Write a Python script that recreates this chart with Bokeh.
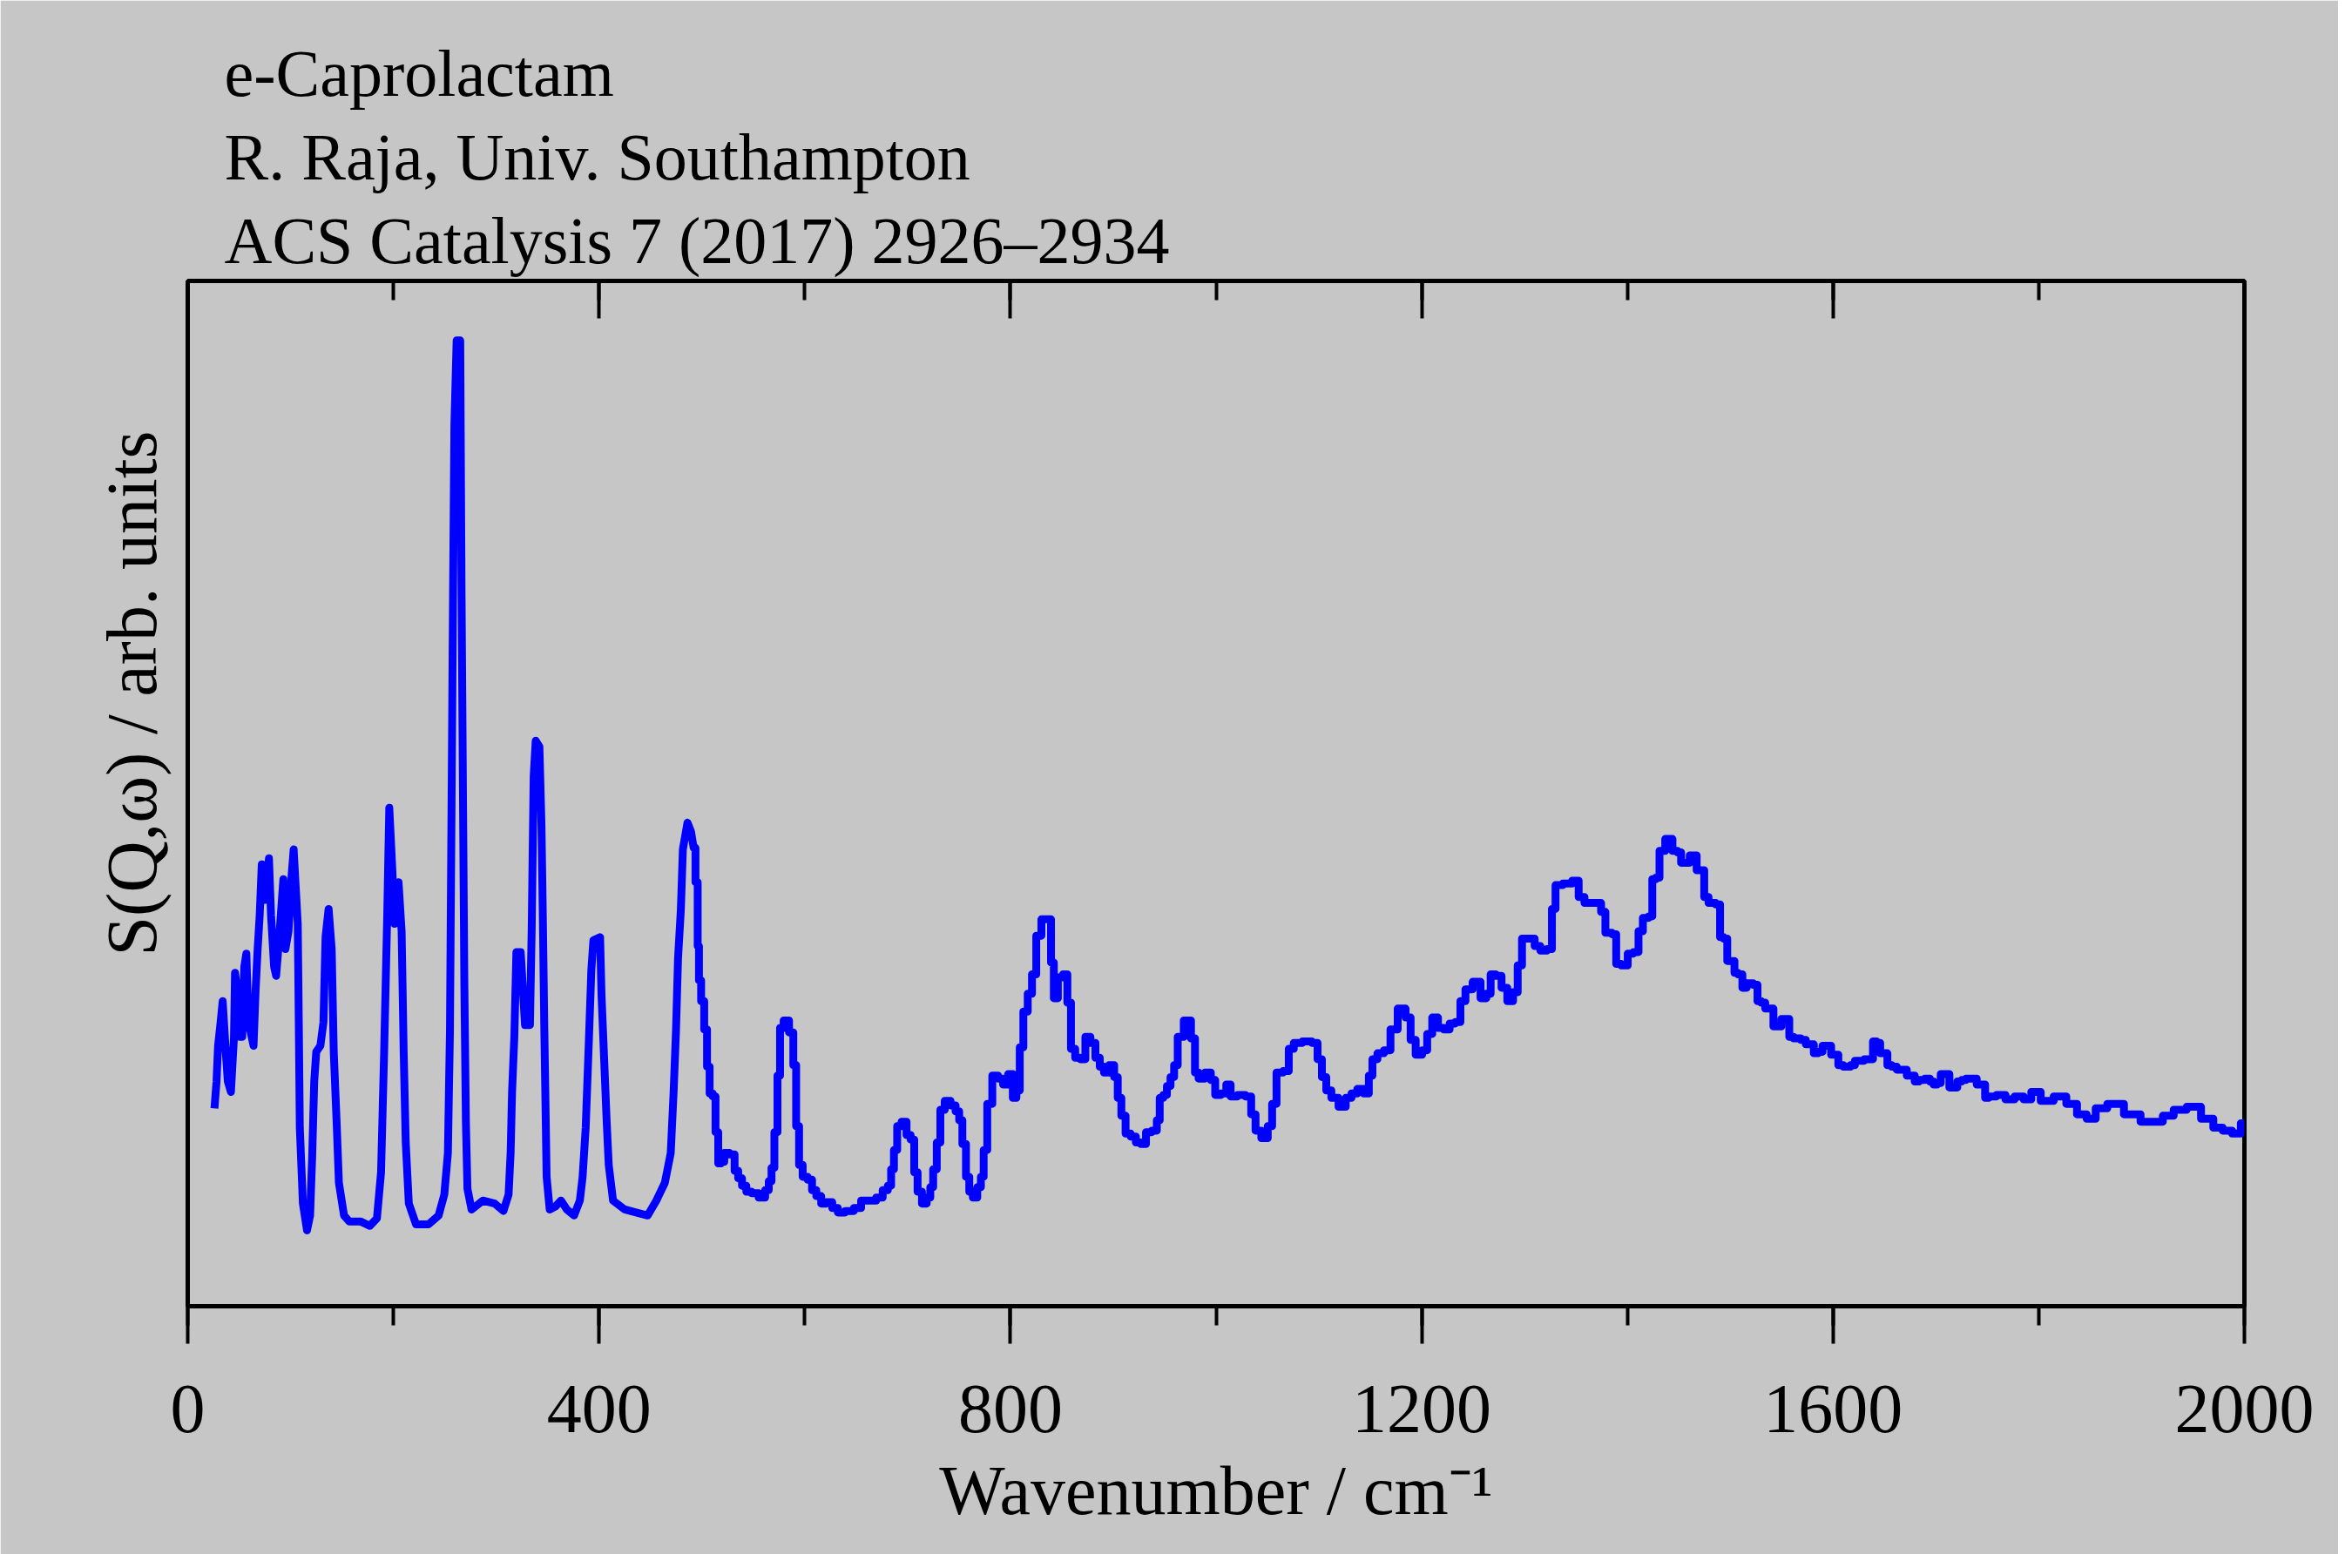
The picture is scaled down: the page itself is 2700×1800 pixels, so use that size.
from bokeh.embed import file_html
from bokeh.models import LinearAxis, Range1d, SingleIntervalTicker, Title
from bokeh.plotting import figure
from bokeh.resources import INLINE


# Spectrum: wavenumber (cm-1) and intensity (arb. units)
wavenumber = [
    26, 28, 29.5, 32, 34, 37, 39, 42, 45, 46, 49, 51, 53, 55, 57, 59, 61, 64, 66, 68,
    70, 72, 75, 79, 81, 84, 86, 89, 93, 95, 98, 101, 103, 107, 108, 109, 112, 116, 119, 121,
    123, 125, 129, 132, 134, 137, 140, 142, 145, 147, 152, 157, 168, 177, 184, 188, 191, 194, 196, 199,
    201, 205, 208, 210, 212, 215, 222, 234, 244, 249.5, 253, 255, 256.5, 258, 259.3, 261.5, 265, 266.3, 267.7, 269,
    270.5, 272, 276, 287, 298.5, 307, 312, 314, 315.4, 317.6, 319.6, 323.8, 328, 332.8, 334.5, 336.4, 338.4, 342, 344, 345.4,
    346.8, 349, 352, 357.5, 363, 368.7, 375.7, 381.3, 384, 387, 389.8, 392.5, 394.5, 401, 402.4, 405, 407.4, 409.4, 413.6, 425,
    436, 447.3, 455.7, 464, 469.7, 472.5, 474.8, 476.8, 479.5, 481.5, 486, 489.4, 492,
    495.5, 496.3, 498, 500.5, 504, 506, 509, 512, 514.5, 517.3, 520, 523.5, 530, 533.6, 537, 541, 545.4, 551, 559.4, 563.6,
    566.4, 569, 572, 575, 577, 582, 587.5, 590.3, 593, 596, 600, 605.7, 608.5, 614, 618, 624, 629.5, 635, 643.6, 652,
    657.6, 666, 673, 678.6, 683, 685, 688.5, 691.3, 697, 701, 705, 708, 711.5, 716.5, 720.7, 723.5, 726.3, 730.5, 733.3, 739,
    744.6, 748.8, 751.6, 755, 758.6, 761.4, 765.6, 770, 772.6, 775.4, 779.6, 785.2, 790.8, 795, 800.7, 804, 807.7, 810.5, 814.7, 819,
    823, 827.3, 833, 838.5, 840.5, 844, 848.3, 854, 856.8, 861, 865, 870.8, 875, 880.6, 884.8, 889, 893, 898.8, 903, 905.8,
    910, 914, 920, 924, 929.7, 934, 941, 943.8, 946.6, 950.8, 953.6, 957.8, 960.6, 964.8, 972.4, 978.8, 980.2, 985.8, 992.8, 997,
    1001.3, 1008.3, 1011.6, 1016.7, 1025, 1032, 1036.3, 1040.5, 1047.5, 1053, 1056, 1061.6, 1068.6, 1072.8, 1078.4, 1089.6, 1096.6, 1100.8, 1105, 1109.3,
    1114.9, 1123.3, 1128.9, 1134.5, 1140.1, 1147.1, 1150, 1154.1, 1159.7, 1166.8, 1172.4, 1180.8, 1187.8, 1190.6, 1197.6, 1203.2, 1207.4, 1213, 1218.6, 1224.3,
    1229.9, 1235.5, 1239.7, 1245.3, 1253.7, 1260.7, 1264.9, 1269.1, 1274.8, 1280.4, 1286, 1291.6, 1295, 1300, 1307, 1312.6, 1318.2, 1325.2, 1328, 1332.2,
    1342.1, 1350.5, 1354.7, 1361.8, 1373, 1375.8, 1381.4, 1388.4, 1389.8, 1398.2, 1402.4, 1409.4, 1412.2, 1417.9, 1423.5, 1424.9, 1430.5, 1431.9, 1441.7, 1445.9,
    1451.5, 1452.9, 1458.5, 1462.7, 1466.9, 1467.8, 1474, 1475.4, 1482.4, 1489.4, 1490.8, 1496.4, 1497.8, 1503.4, 1504.8, 1510.4, 1513.2, 1518.8, 1525.8, 1527.2,
    1532.9, 1535.1, 1541.3, 1542.7, 1548.3, 1551.1, 1556.7, 1558.1, 1565.1, 1572.1, 1574.9, 1580.5, 1582, 1589, 1590.4, 1597.4, 1598.8, 1604.4, 1605.8, 1614.2,
    1619.8, 1622.6, 1638.1, 1639.5, 1645.1, 1646.5, 1652.1, 1653.5, 1660.5, 1663.3, 1670.3, 1673.1, 1678.7, 1680.1, 1687.1, 1691.3, 1697, 1698.4, 1704, 1705.4,
    1712.4, 1713.8, 1719.4, 1722.2, 1727.8, 1730.6, 1739, 1740.4, 1747.4, 1748.3, 1754.4, 1763.4, 1771.9, 1781.1, 1789.5, 1796, 1807.8, 1821.2, 1832.4, 1842,
    1851.2, 1859.6, 1873.7, 1892, 1906, 1915.7, 1925.6, 1936.8, 1950.8, 1964.8, 1974.7, 1983, 1993, 2000,
]
intensity = [
    133, 151, 175, 191, 205, 171, 151, 144, 181, 224, 208, 181, 181, 228, 237, 191, 185, 175, 212, 240,
    263, 297, 273, 301, 263, 228, 222, 248, 287, 240, 252, 289, 307, 257, 191, 120, 69, 51, 61, 100,
    151, 171, 175, 191, 248, 267, 240, 171, 120, 83, 61, 57, 57, 54, 59, 90, 171, 263, 335, 293,
    257, 285, 252, 171, 110, 69, 55, 55, 61, 75, 103, 185, 331, 478, 592, 649, 649, 478, 340, 217,
    124, 79, 65, 71, 69, 64, 75, 103, 144, 181, 238, 238, 189, 189, 254, 356, 380, 376, 323, 258,
    185, 87, 65, 67, 71, 65, 61, 71, 87, 120, 173, 226, 246, 248, 209, 165, 124, 95, 71, 65,
    63, 61, 71, 83, 103, 144, 185, 234, 266, 307, 325, 319, 308,
    285, 242, 219, 205, 186, 161, 143, 141, 117, 96, 97, 103, 102, 91, 86, 81, 77, 76, 73, 78,
    84, 93, 117, 155, 187, 192, 184, 162, 121, 95, 87, 85, 78, 74, 69, 70, 66, 63, 64, 66,
    71, 71, 73, 78, 81, 92, 105, 121, 124, 115, 112, 90, 77, 69, 73, 80, 92, 110, 132, 138,
    135, 131, 125, 109, 87, 77, 73, 80, 87, 105, 136, 155, 153, 149, 156, 140, 145, 174, 198, 210,
    223, 249, 260, 260, 231, 207, 221, 223, 204, 173, 167, 166, 181, 177, 167, 161, 157, 162, 154, 140,
    128, 116, 114, 110, 109, 117, 118, 125, 140, 142, 148, 154, 162, 181, 192, 180, 157, 153, 157, 152,
    142, 143, 149, 141, 142, 141, 129, 118, 113, 121, 136, 157, 158, 173, 177, 178, 177, 166, 154, 145,
    140, 134, 140, 143, 146, 143, 155, 166, 170, 172, 186, 200, 194, 179, 169, 172, 183, 194, 187, 186,
    190, 191, 205, 213, 218, 207, 210, 223, 222, 214, 205, 211, 229, 247, 247, 242, 239, 240, 267, 283,
    284, 286, 275, 271, 271, 265, 251, 250, 230, 229, 237, 238, 252, 261, 262, 287, 288, 306, 314, 306,
    305, 298, 298, 303, 303, 293, 293, 275, 271, 270, 248, 247, 232, 232, 224, 223, 214, 217, 216, 205,
    204, 200, 200, 188, 188, 193, 193, 181, 180, 179, 176, 176, 170, 171, 175, 175, 169, 169, 162, 161,
    162, 165, 166, 178, 177, 170, 170, 162, 161, 159, 159, 155, 155, 151, 152, 153, 151, 149, 150, 156,
    156, 147, 147, 151, 152, 153, 153, 149, 149, 140, 141, 142, 139, 141, 139, 144, 138, 141, 136, 129,
    126, 133, 136, 129, 124, 124, 128, 132, 134, 126, 120, 118, 116, 123,
]

# above this wavenumber the data are coarsely binned and drawn as steps
binned_from = 492

title_lines = [
    "e-Caprolactam",
    "R. Raja, Univ. Southampton",
    "ACS Catalysis 7 (2017) 2926\u20132934",
]
x_title = "Wavenumber / cm\u207b\u00b9"
y_title = "S(Q,\u03c9) / arb. units"

x_start, x_end = 0, 2000
y_top = 689
major_step = 400

FONT = "Liberation Serif"
BG = "#C6C6C6"
BLUE = "#0000FF"

W, H = 2684, 1784
p = figure(
    width=W,
    height=H,
    title=None,
    x_range=Range1d(x_start, x_end),
    y_range=Range1d(0, y_top),
    output_backend="svg",
    toolbar_location=None,
    min_border_left=215,
    min_border_right=108,
    min_border_top=322,
    min_border_bottom=285,
)
p.background_fill_color = BG
p.border_fill_color = BG
p.outline_line_color = "black"
p.outline_line_width = 5
p.xgrid.visible = False
p.ygrid.visible = False
p.yaxis.visible = False

n_fine = sum(1 for x in wavenumber if x <= binned_from)
p.line(wavenumber[:n_fine], intensity[:n_fine], line_color=BLUE, line_width=9,
       line_join="round")
p.step(wavenumber[n_fine - 1:], intensity[n_fine - 1:], mode="center",
       line_color=BLUE, line_width=9, line_join="round", line_cap="round")

# bottom axis: ticks outside, labelled
ticker = SingleIntervalTicker(interval=major_step, num_minor_ticks=2)
bottom = p.xaxis[0]
bottom.ticker = ticker
bottom.axis_line_width = 5
bottom.major_tick_line_width = 4
bottom.minor_tick_line_width = 4
bottom.major_tick_out = 43
bottom.major_tick_in = 0
bottom.minor_tick_out = 22
bottom.minor_tick_in = 0
bottom.major_label_text_font = FONT
bottom.major_label_text_font_size = "80px"
bottom.major_label_text_color = "black"
bottom.major_label_standoff = 48
bottom.axis_label = x_title
bottom.axis_label_text_font = FONT
bottom.axis_label_text_font_size = "80px"
bottom.axis_label_text_font_style = "normal"
bottom.axis_label_text_color = "black"
bottom.axis_label_standoff = 20

# top axis: ticks inside, labels not painted
top = LinearAxis(ticker=ticker)
top.axis_line_width = 5
top.major_tick_line_width = 4
top.minor_tick_line_width = 4
top.major_tick_in = 43
top.major_tick_out = 0
top.minor_tick_in = 22
top.minor_tick_out = 0
top.major_label_text_font_size = "1px"
top.major_label_text_color = None
top.major_label_standoff = 0
p.add_layout(top, "above")

# header lines: nearest the frame first
for line in reversed(title_lines):
    p.add_layout(Title(text=line, align="left", offset=42, standoff=10,
                       text_font=FONT, text_font_size="76px",
                       text_font_style="normal", text_color="black"), "above")

# y axis title on the left side
p.add_layout(Title(text=y_title, align="left", offset=402, standoff=37,
                   text_font=FONT, text_font_size="82px",
                   text_font_style="normal", text_color="black"), "left")

open("out.html", "w").write(file_html(p, INLINE))
